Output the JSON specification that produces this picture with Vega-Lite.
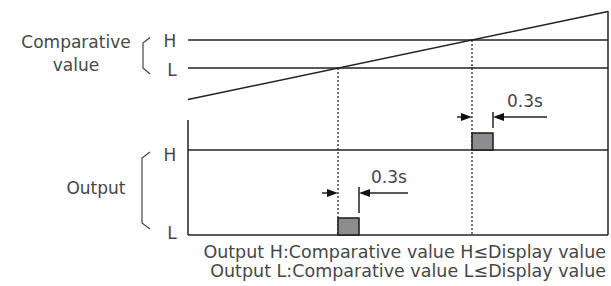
{
  "$schema": "https://vega.github.io/schema/vega-lite/v6.json",
  "width": 611,
  "height": 286,
  "autosize": "none",
  "padding": 0,
  "background": "white",
  "config": {"view": {"stroke": null}, "axis": {"disable": true}},
  "datasets": {
    "solid": [
      {"x": 188, "y": 40, "x2": 608, "y2": 40},
      {"x": 188, "y": 68, "x2": 608, "y2": 68},
      {"x": 188, "y": 99.5, "x2": 608, "y2": 11.5},
      {"x": 608, "y": 11, "x2": 608, "y2": 235},
      {"x": 188, "y": 120, "x2": 188, "y2": 235},
      {"x": 188, "y": 150, "x2": 608, "y2": 150},
      {"x": 188, "y": 235, "x2": 608, "y2": 235},
      {"x": 493, "y": 112, "x2": 493, "y2": 128},
      {"x": 359, "y": 187, "x2": 359, "y2": 213},
      {"x": 457, "y": 117, "x2": 462, "y2": 117},
      {"x": 502, "y": 117, "x2": 547, "y2": 117},
      {"x": 322, "y": 193, "x2": 328, "y2": 193},
      {"x": 369, "y": 193, "x2": 408, "y2": 193}
    ],
    "dotted": [
      {"x": 338, "y": 68, "x2": 338, "y2": 235},
      {"x": 472, "y": 40, "x2": 472, "y2": 235}
    ],
    "boxes": [
      {"x": 472, "y": 133, "x2": 493, "y2": 150},
      {"x": 338, "y": 218, "x2": 359, "y2": 235}
    ],
    "heads": [
      {"x": 466.5, "y": 117, "dir": "right"},
      {"x": 498.5, "y": 117, "dir": "left"},
      {"x": 332.5, "y": 193, "dir": "right"},
      {"x": 364.5, "y": 193, "dir": "left"}
    ],
    "brackets": [
      {"id": "a", "ord": 1, "x": 150, "y": 37.5},
      {"id": "a", "ord": 2, "x": 143, "y": 43},
      {"id": "a", "ord": 3, "x": 143, "y": 68},
      {"id": "a", "ord": 4, "x": 150, "y": 74},
      {"id": "b", "ord": 1, "x": 150, "y": 152},
      {"id": "b", "ord": 2, "x": 142, "y": 158},
      {"id": "b", "ord": 3, "x": 142, "y": 223},
      {"id": "b", "ord": 4, "x": 150, "y": 229}
    ],
    "sideLabels": [
      {"x": 76, "y": 48, "t": "Comparative"},
      {"x": 76, "y": 71, "t": "value"},
      {"x": 96, "y": 194, "t": "Output"}
    ],
    "levels": [
      {"x": 170, "y": 47, "t": "H"},
      {"x": 172, "y": 76, "t": "L"},
      {"x": 170, "y": 161, "t": "H"},
      {"x": 172, "y": 239, "t": "L"}
    ],
    "delays": [
      {"x": 389, "y": 183, "t": "0.3s"},
      {"x": 525, "y": 107, "t": "0.3s"}
    ],
    "notes": [
      {"x": 606, "y": 258, "t": "Output H:Comparative value H≤Display value"},
      {"x": 606, "y": 277, "t": "Output L:Comparative value L≤Display value"}
    ]
  },
  "encoding": {
    "x": {"field": "x", "type": "quantitative", "scale": {"domain": [0, 611], "nice": false, "zero": false}},
    "y": {"field": "y", "type": "quantitative", "scale": {"domain": [0, 286], "nice": false, "zero": false, "reverse": true}}
  },
  "layer": [
    {
      "data": {"name": "dotted"},
      "mark": {"type": "rule", "color": "#444444", "strokeWidth": 1.5, "strokeDash": [2, 2]},
      "encoding": {"x2": {"field": "x2"}, "y2": {"field": "y2"}}
    },
    {
      "data": {"name": "solid"},
      "mark": {"type": "rule", "color": "#222222", "strokeWidth": 1.5},
      "encoding": {"x2": {"field": "x2"}, "y2": {"field": "y2"}}
    },
    {
      "data": {"name": "boxes"},
      "mark": {"type": "rect", "fill": "#8d8d91", "stroke": "#1a1a1a", "strokeWidth": 1.5},
      "encoding": {"x2": {"field": "x2"}, "y2": {"field": "y2"}}
    },
    {
      "data": {"name": "heads"},
      "mark": {"type": "point", "filled": true, "color": "#111111", "size": 121, "opacity": 1},
      "encoding": {
        "shape": {"field": "dir", "type": "nominal", "legend": null,
          "scale": {"domain": ["right", "left"], "range": ["M-1,-0.73L1,0L-1,0.73Z", "M1,-0.73L-1,0L1,0.73Z"]}}
      }
    },
    {
      "data": {"name": "brackets"},
      "mark": {"type": "line", "color": "#444444", "strokeWidth": 1.2},
      "encoding": {"detail": {"field": "id"}, "order": {"field": "ord", "type": "quantitative"}}
    },
    {
      "data": {"name": "sideLabels"},
      "mark": {"type": "text", "font": "DejaVu Sans", "fontSize": 17, "color": "#474747", "align": "center", "baseline": "alphabetic"},
      "encoding": {"text": {"field": "t"}}
    },
    {
      "data": {"name": "levels"},
      "mark": {"type": "text", "font": "DejaVu Sans", "fontSize": 17, "color": "#474747", "align": "center", "baseline": "alphabetic"},
      "encoding": {"text": {"field": "t"}}
    },
    {
      "data": {"name": "delays"},
      "mark": {"type": "text", "font": "DejaVu Sans", "fontSize": 17, "color": "#474747", "align": "center", "baseline": "alphabetic"},
      "encoding": {"text": {"field": "t"}}
    },
    {
      "data": {"name": "notes"},
      "mark": {"type": "text", "font": "DejaVu Sans", "fontSize": 17.5, "color": "#474747", "align": "right", "baseline": "alphabetic"},
      "encoding": {"text": {"field": "t"}}
    }
  ]
}
